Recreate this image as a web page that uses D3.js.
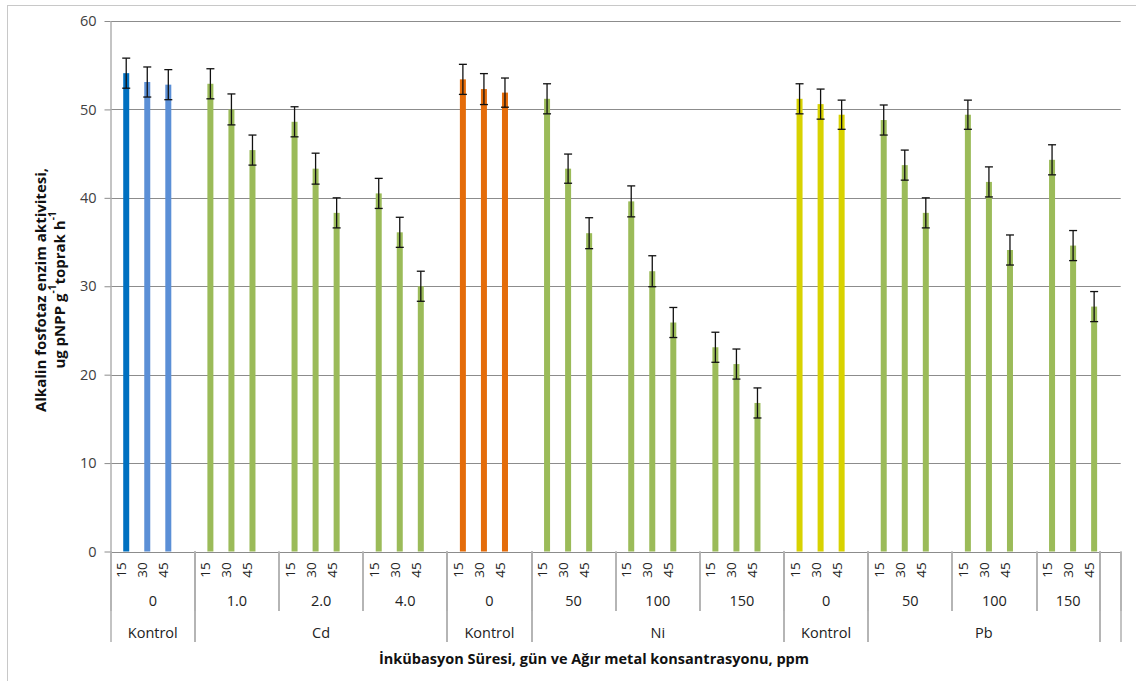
<!DOCTYPE html>
<html>
<head>
<meta charset="utf-8">
<script src="https://cdn.jsdelivr.net/npm/d3@7"></script>
<style>
  body { margin: 0; background: #fff; }
  text { font-family: "Open Sans", "Noto Sans", sans-serif; }
</style>
</head>
<body>
<div id="wrapper"></div>
<script>
/*global d3*/

// data
const days = ["15", "30", "45"]
const metals = ["Kontrol", "Cd", "Kontrol", "Ni", "Kontrol", "Pb"]
const concLabels = [["0"], ["1.0", "2.0", "4.0"], ["0"], ["50", "100", "150"], ["0"], ["50", "100", "150"]]

const kontrolCdValues = [54.1, 53.1, 52.8]
const cdValues = [52.9, 50.0, 45.4, 48.6, 43.3, 38.3, 40.5, 36.1, 30.0]
const kontrolNiValues = [53.4, 52.3, 51.9]
const niValues = [51.2, 43.3, 36.0, 39.6, 31.7, 25.9, 23.1, 21.2, 16.8]
const kontrolPbValues = [51.2, 50.6, 49.4]
const pbValues = [48.8, 43.7, 38.3, 49.4, 41.8, 34.1, 44.3, 34.6, 27.7]

const kontrolCdErr = [1.7, 1.7, 1.7]
const cdErr = [1.7, 1.75, 1.7, 1.7, 1.75, 1.7, 1.7, 1.7, 1.7]
const kontrolNiErr = [1.7, 1.75, 1.65]
const niErr = [1.7, 1.65, 1.75, 1.75, 1.75, 1.7, 1.7, 1.7, 1.7]
const kontrolPbErr = [1.7, 1.7, 1.65]
const pbErr = [1.7, 1.7, 1.7, 1.65, 1.7, 1.7, 1.7, 1.7, 1.7]

const yTicks = [0, 10, 20, 30, 40, 50, 60]

function drawChart() {

    const values = [kontrolCdValues, cdValues, kontrolNiValues, niValues, kontrolPbValues, pbValues]
    const errs = [kontrolCdErr, cdErr, kontrolNiErr, niErr, kontrolPbErr, pbErr]
    const colors = [
        ["#0070C0", "#5B8FD6", "#5B8FD6"],
        ["#9BBB59"],
        ["#E46C0A"],
        ["#9BBB59"],
        ["#D8D200"],
        ["#9BBB59"],
    ]

    // category slots: 3 days + a blank slot per concentration
    let slots = []
    metals.forEach((metal, mi) => {
        concLabels[mi].forEach((conc, ci) => {
            days.forEach((day, di) => {
                const k = ci * 3 + di
                slots.push({
                    mKey: mi, gKey: mi + "-" + ci, metal, conc, day,
                    value: values[mi][k], err: errs[mi][k],
                    color: colors[mi][k] || colors[mi][0],
                })
            })
            slots.push({ mKey: mi, gKey: mi + "-" + ci, metal, conc, day: "", blank: true })
        })
    })
    // the last blank slot stands on its own
    const last = slots[slots.length - 1]
    last.mKey = "end"; last.gKey = "end"; last.metal = ""; last.conc = ""
    slots = slots.map((d, i) => ({ ...d, i }))

    const dims = {
        width: 1136,
        height: 681,
        left: 110.7,
        right: 1120.7,
        top: 21,
        bottom: 551.5,
    }

    const svg = d3.select("#wrapper")
        .append("svg")
        .attr("width", dims.width)
        .attr("height", dims.height)

    // chart frame
    svg.append("rect")
        .attr("x", 7.5).attr("y", 5.5)
        .attr("width", 1150).attr("height", 700)
        .attr("fill", "none")
        .attr("stroke", "#c8c8c8")

    const xScale = d3.scaleBand()
        .domain(d3.range(slots.length))
        .range([dims.left, dims.right])
        .padding(0)

    const yScale = d3.scaleLinear()
        .domain([0, 60])
        .range([dims.bottom, dims.top])

    // gridlines
    svg.append("g")
        .selectAll("line")
        .data(yTicks.filter(d => d > 0))
        .join("line")
        .attr("x1", dims.left)
        .attr("x2", dims.right)
        .attr("y1", d => Math.round(yScale(d)) + 0.5)
        .attr("y2", d => Math.round(yScale(d)) + 0.5)
        .attr("stroke", "#8c8c8c")

    // y axis
    const yAxis = svg.append("g")
        .attr("transform", `translate(${Math.round(dims.left) - 0.5},0)`)
        .call(d3.axisLeft(yScale).tickValues(yTicks).tickSize(6).tickPadding(8).tickSizeOuter(0))
    yAxis.select(".domain").attr("stroke", "#b0b0b0").attr("stroke-width", 1.5)
    yAxis.selectAll(".tick line").attr("stroke", "#8c8c8c")
    yAxis.selectAll(".tick text")
        .attr("fill", "#404040")
        .style("font-size", "14.5px")
        .style("font-family", "Open Sans, sans-serif")

    // x axis line
    svg.append("line")
        .attr("x1", dims.left).attr("x2", dims.right)
        .attr("y1", Math.round(dims.bottom) + 0.5).attr("y2", Math.round(dims.bottom) + 0.5)
        .attr("stroke", "#8c8c8c")

    // bars
    const bw = xScale.bandwidth()
    const barWidth = 6
    const barOffset = 5
    const barSlots = slots.filter(d => !d.blank)

    svg.append("g")
        .selectAll("rect")
        .data(barSlots)
        .join("rect")
        .attr("x", d => xScale(d.i) + bw / 2 + barOffset - barWidth / 2)
        .attr("y", d => yScale(d.value))
        .attr("width", barWidth)
        .attr("height", d => yScale(0) - yScale(d.value))
        .attr("fill", d => d.color)

    // error bars
    const errG = svg.append("g")
        .attr("stroke", "#111")
        .attr("stroke-width", 1.3)
    const cx = d => xScale(d.i) + bw / 2 + barOffset
    errG.selectAll(".stem")
        .data(barSlots)
        .join("line")
        .attr("x1", cx).attr("x2", cx)
        .attr("y1", d => yScale(d.value + d.err))
        .attr("y2", d => yScale(d.value - d.err))
    errG.selectAll(".capTop")
        .data(barSlots)
        .join("line")
        .attr("x1", d => cx(d) - 4).attr("x2", d => cx(d) + 4)
        .attr("y1", d => yScale(d.value + d.err))
        .attr("y2", d => yScale(d.value + d.err))
    errG.selectAll(".capBottom")
        .data(barSlots)
        .join("line")
        .attr("x1", d => cx(d) - 4).attr("x2", d => cx(d) + 4)
        .attr("y1", d => yScale(d.value - d.err))
        .attr("y2", d => yScale(d.value - d.err))

    // category labels, level 1 (days)
    svg.append("g")
        .selectAll("text")
        .data(slots.filter(d => d.day))
        .join("text")
        .attr("transform", d => `translate(${xScale(d.i) + bw / 2},570) rotate(-90)`)
        .attr("text-anchor", "middle")
        .attr("dominant-baseline", "central")
        .style("font-size", "13.5px")
        .attr("fill", "#222")
        .text(d => d.day)

    // group spans for level 2 and 3
    const concGroups = d3.groups(slots, d => d.gKey)
        .map(([k, arr]) => ({ label: arr[0].conc, x0: xScale(arr[0].i), x1: xScale(arr[arr.length - 1].i) + bw }))
    const metalGroups = d3.groups(slots, d => d.mKey)
        .map(([k, arr]) => ({ label: arr[0].metal, x0: xScale(arr[0].i), x1: xScale(arr[arr.length - 1].i) + bw }))

    const sep = svg.append("g").attr("stroke", "#b0b0b0").attr("stroke-width", 1.5)
    sep.selectAll(".c")
        .data(concGroups.flatMap(g => [g.x0, g.x1]))
        .join("line")
        .attr("x1", d => Math.round(d)).attr("x2", d => Math.round(d))
        .attr("y1", dims.bottom).attr("y2", 611)
    sep.selectAll(".m")
        .data(metalGroups.flatMap(g => [g.x0, g.x1]))
        .join("line")
        .attr("x1", d => Math.round(d)).attr("x2", d => Math.round(d))
        .attr("y1", dims.bottom).attr("y2", 642)

    svg.append("g")
        .selectAll("text")
        .data(concGroups.filter(g => g.label))
        .join("text")
        .attr("x", d => (d.x0 + d.x1) / 2)
        .attr("y", 600)
        .attr("text-anchor", "middle")
        .attr("dominant-baseline", "central")
        .style("font-size", "14.5px")
        .attr("fill", "#222")
        .text(d => d.label)

    svg.append("g")
        .selectAll("text")
        .data(metalGroups.filter(g => g.label))
        .join("text")
        .attr("x", d => (d.x0 + d.x1) / 2)
        .attr("y", 632)
        .attr("text-anchor", "middle")
        .attr("dominant-baseline", "central")
        .style("font-size", "14.5px")
        .attr("fill", "#222")
        .text(d => d.label)

    // axis titles
    svg.append("text")
        .attr("x", 594)
        .attr("y", 658)
        .attr("text-anchor", "middle")
        .attr("dominant-baseline", "central")
        .style("font-size", "14.5px")
        .style("font-weight", "bold")
        .attr("fill", "#111")
        .text("İnkübasyon Süresi, gün ve Ağır metal konsantrasyonu, ppm")

    const yTitle = svg.append("g")
        .attr("transform", "translate(0,290) rotate(-90)")
        .style("font-size", "15px")
        .style("font-weight", "bold")
        .attr("fill", "#111")
    yTitle.append("text")
        .attr("x", 0).attr("y", 40)
        .attr("text-anchor", "middle")
        .attr("dominant-baseline", "central")
        .text("Alkalin fosfotaz enzim aktivitesi,")
    const line2 = yTitle.append("text")
        .attr("x", 0).attr("y", 59)
        .attr("text-anchor", "middle")
        .attr("dominant-baseline", "central")
    line2.append("tspan").text("ug pNPP g")
    line2.append("tspan").attr("baseline-shift", "super").style("font-size", "10px").text("-1")
    line2.append("tspan").text("toprak h")
    line2.append("tspan").attr("baseline-shift", "super").style("font-size", "10px").text("-1")
}

drawChart()
</script>
</body>
</html>
